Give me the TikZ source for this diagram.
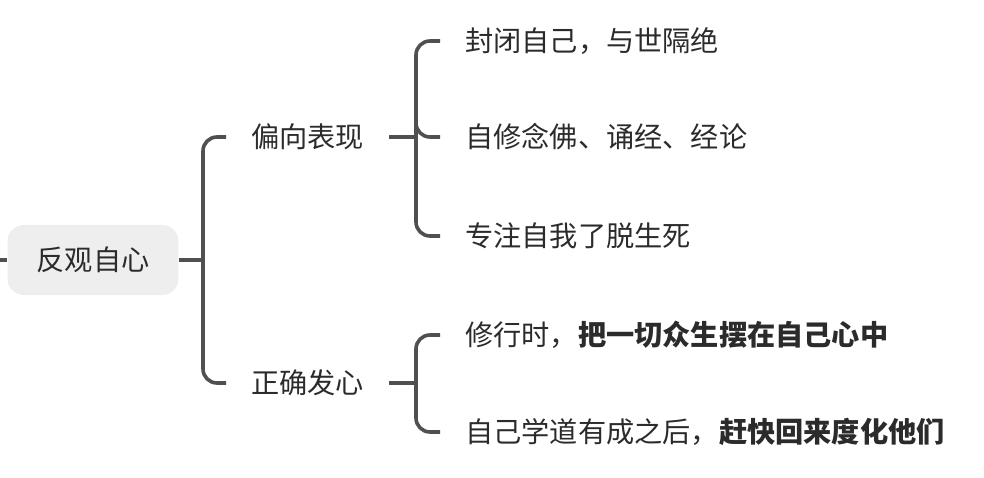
\documentclass[tikz,border=0pt]{standalone}
\usepackage{fontspec}
\setmainfont{Noto Sans CJK SC}
\usepackage{tikz}
\usetikzlibrary{positioning, calc}
\definecolor{linegray}{HTML}{505050}
\definecolor{textgray}{HTML}{2B2B2B}
\definecolor{rootfill}{HTML}{EEEEEE}

\begin{document}
\begin{tikzpicture}[x=1pt, y=-1pt,
        topic/.style={text=textgray, font=\fontsize{28.2}{33}\selectfont, inner xsep=25pt, inner ysep=4pt},
        rootbox/.style={topic, fill=rootfill, rounded corners=16pt, inner xsep=29pt, minimum height=70pt},
        branch/.style={draw=linegray, line width=3.6pt, rounded corners=14pt}]
        \useasboundingbox (0,0) rectangle (984,478);

        % junctions of the brackets
        \coordinate (in) at (0,260);
        \coordinate (j0) at (203,260);
        \coordinate (j1) at (416,137);
        \coordinate (j2) at (416,383);

        % topics
        \node[rootbox] (root) at (93,260) {反观自心};
        \node[topic, anchor=west] (b1) at (226,137) {偏向表现};
        \node[topic, anchor=west] (b2) at (226,383) {正确发心};

        % leaves
        \foreach \n/\y/\labeltext in {l1/41/封闭自己，与世隔绝, l2/137/自修念佛、诵经、经论, l3/236/专注自我了脱生死}
            \node[topic, anchor=west] (\n) at (440,\y) {\labeltext};
        \node[topic, anchor=west] (l4) at (440,335) {修行时，\textbf{把一切众生摆在自己心中}};
        \node[topic, anchor=west] (l5) at (440,432) {自己学道有成之后，\textbf{赶快回来度化他们}};

        % connectors
        \draw[branch] (in) -- (root.west);
        \draw[branch] (root.east) -- (j0);
        \draw[branch] (j0) |- (b1.west);
        \draw[branch] (j0) |- (b2.west);

        \draw[branch] (b1.east) -- (j1);
        \foreach \n in {l1, l2, l3}
            \draw[branch] (j1) |- (\n.west);

        \draw[branch] (b2.east) -- (j2);
        \foreach \n in {l4, l5}
            \draw[branch] (j2) |- (\n.west);
    \end{tikzpicture}
\end{document}
